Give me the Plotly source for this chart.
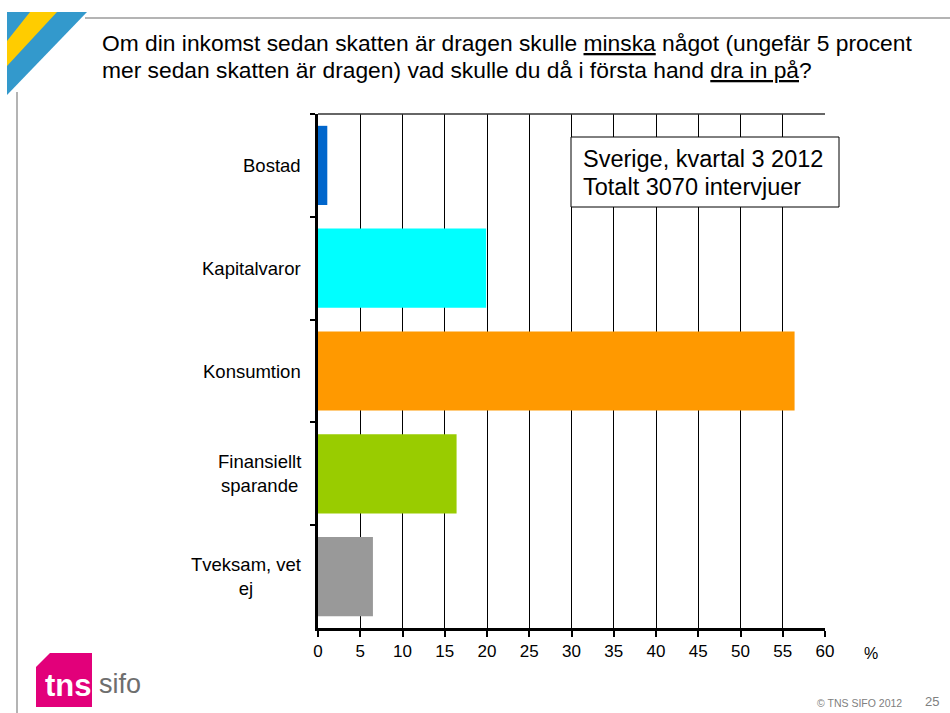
import plotly.graph_objects as go

# Survey answers (percent of respondents)
categories = ["Bostad", "Kapitalvaror", "Konsumtion", "Finansiellt sparande", "Tveksam, vet ej"]
category_labels = ["Bostad", "Kapitalvaror", "Konsumtion", "Finansiellt<br>sparande", "Tveksam, vet<br>ej"]
values = [1.1, 19.9, 56.4, 16.4, 6.5]
bar_colors = ["#0066CC", "#00FFFF", "#FF9900", "#99CC00", "#999999"]
x_ticks = list(range(0, 61, 5))

title_lines = [
    "Om din inkomst sedan skatten är dragen skulle <u>minska</u> något (ungefär 5 procent",
    "mer sedan skatten är dragen) vad skulle du då i första hand <u>dra in på</u>?",
]
info_lines = ["Sverige, kvartal 3 2012", "Totalt 3070 intervjuer"]

W, H = 950, 713
L, R, T, B = 318, 825, 114, 628  # plot area in pixels


def px(x):
    return (x - L) / (R - L)


def py(y):
    return (B - y) / (B - T)


def path(points):
    return "M " + " L ".join(f"{px(x):.5f},{py(y):.5f}" for x, y in points) + " Z"


FONT = "Liberation Sans, Arial, sans-serif"

fig = go.Figure(
    go.Bar(
        x=values,
        y=categories,
        orientation="h",
        marker=dict(color=bar_colors, line=dict(width=0)),
        hoverinfo="x+y",
    )
)

shapes = [
    # slide frame lines
    dict(type="line", xref="paper", yref="paper", x0=px(85), x1=px(950), y0=py(18), y1=py(18),
         line=dict(color="#b4b4b4", width=2)),
    dict(type="line", xref="paper", yref="paper", x0=px(17), x1=px(17), y0=py(92), y1=py(713),
         line=dict(color="#b4b4b4", width=2)),
    # corner emblem
    dict(type="path", xref="paper", yref="paper", path=path([(7, 12), (87, 12), (7, 95)]),
         fillcolor="#3399CC", line=dict(width=0), layer="above"),
    dict(type="path", xref="paper", yref="paper", path=path([(30, 12), (57, 12), (7, 66), (7, 41)]),
         fillcolor="#FFCC00", line=dict(width=0), layer="above"),
    # tns badge
    dict(type="path", xref="paper", yref="paper",
         path=path([(36, 667), (50, 653), (92, 653), (92, 707), (36, 707)]),
         fillcolor="#E2007A", line=dict(width=0), layer="above"),
    # top border of plot area
    dict(type="line", xref="paper", yref="paper", x0=0, x1=1, y0=1, y1=1,
         line=dict(color="#333333", width=1.5)),
    # info box
    dict(type="rect", xref="paper", yref="paper", x0=px(571), x1=px(839), y0=py(207), y1=py(137),
         fillcolor="white", line=dict(color="black", width=1), layer="above"),
]

annotations = []
for i, line in enumerate(title_lines):
    annotations.append(dict(xref="paper", yref="paper", x=px(100), y=py(43 + 27 * i),
                            xanchor="left", yanchor="middle", align="left", showarrow=False,
                            text=line, font=dict(family=FONT, size=22.8, color="black")))
for i, line in enumerate(info_lines):
    annotations.append(dict(xref="paper", yref="paper", x=px(581), y=py(159 + 28 * i),
                            xanchor="left", yanchor="middle", align="left", showarrow=False,
                            text=line, font=dict(family=FONT, size=23.5, color="black")))

annotations += [
    dict(xref="paper", yref="paper", x=px(871), y=py(653), xanchor="center", yanchor="middle",
         showarrow=False, text="%", font=dict(family=FONT, size=16, color="black")),
    dict(xref="paper", yref="paper", x=px(859), y=py(703), xanchor="center", yanchor="middle",
         showarrow=False, text="© TNS SIFO 2012", font=dict(family=FONT, size=10.5, color="#808080")),
    dict(xref="paper", yref="paper", x=px(932), y=py(701), xanchor="center", yanchor="middle",
         showarrow=False, text="25", font=dict(family=FONT, size=13, color="#808080")),
    dict(xref="paper", yref="paper", x=px(68), y=py(685), xanchor="center", yanchor="middle",
         showarrow=False, text="<b>tns</b>", font=dict(family=FONT, size=31, color="white")),
    dict(xref="paper", yref="paper", x=px(120), y=py(684), xanchor="center", yanchor="middle",
         showarrow=False, text="sifo", font=dict(family=FONT, size=27, color="#6e6e6e")),
]

# category labels, centred line by line beside the axis
for cat, lab in zip(categories, category_labels):
    annotations.append(dict(xref="paper", yref="y", x=px(303), y=cat, xanchor="right",
                            yanchor="middle", align="center", showarrow=False, text=lab,
                            font=dict(family=FONT, size=18.5, color="black")))

fig.update_layout(
    width=W, height=H,
    margin=dict(l=L, r=W - R, t=T, b=H - B, pad=0),
    paper_bgcolor="white", plot_bgcolor="white",
    showlegend=False,
    bargap=0.23,
    shapes=shapes,
    annotations=annotations,
    font=dict(family=FONT, color="black"),
)

fig.update_xaxes(
    range=[0, 60], tickvals=x_ticks, ticktext=[str(v) for v in x_ticks],
    showgrid=True, gridcolor="black", gridwidth=1, zeroline=False,
    showline=True, linecolor="black", linewidth=2.5,
    ticks="outside", ticklen=6, tickwidth=2, tickcolor="black",
    tickfont=dict(family=FONT, size=17, color="black"),
    fixedrange=True,
)
fig.update_yaxes(
    type="category", categoryorder="array", categoryarray=categories, autorange="reversed",
    showgrid=False, zeroline=False, showticklabels=False,
    showline=True, linecolor="black", linewidth=3,
    ticks="outside", tickson="boundaries", ticklen=5, tickwidth=2, tickcolor="black",
    fixedrange=True,
)

fig.write_html("out.html")
